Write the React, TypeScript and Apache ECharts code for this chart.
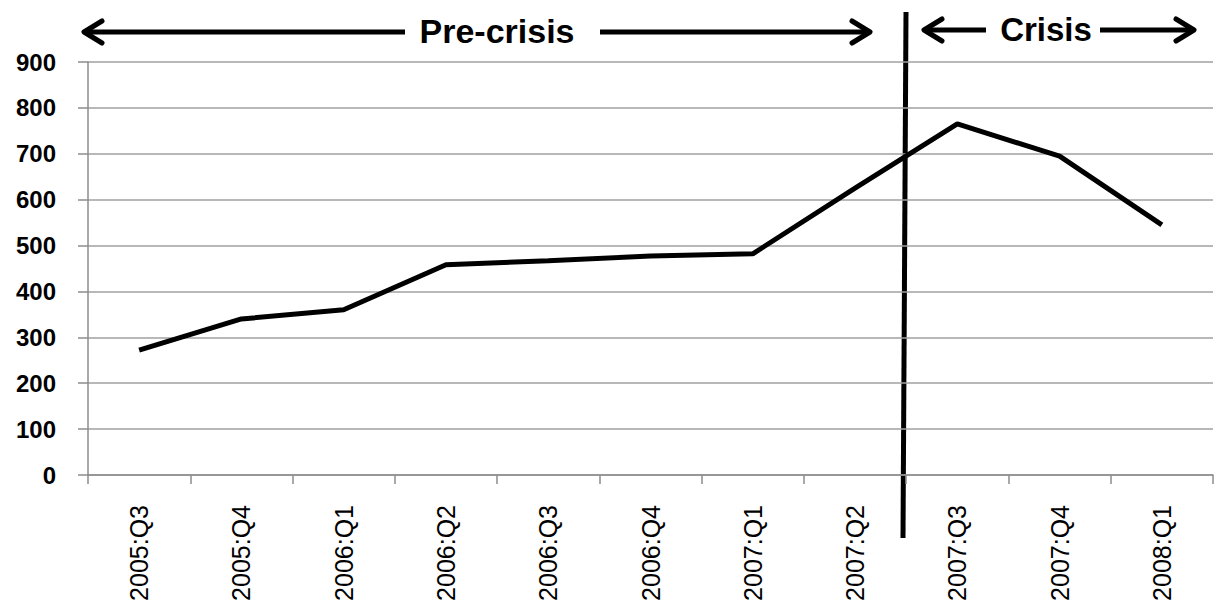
import React, { useEffect, useRef } from "react";
import * as echarts from "echarts";

const categories = [
  "2005:Q3", "2005:Q4", "2006:Q1", "2006:Q2", "2006:Q3", "2006:Q4",
  "2007:Q1", "2007:Q2", "2007:Q3", "2007:Q4", "2008:Q1",
];
const values = [272, 340, 360, 458, 467, 477, 482, 625, 765, 695, 545];
const yTicks = { min: 0, max: 900, interval: 100 };
const preLabel = "Pre-crisis";
const crisisLabel = "Crisis";

export default function App() {
  const ref = useRef<HTMLDivElement>(null);
  useEffect(() => {
    if (!ref.current) return;
    const chart = echarts.init(ref.current, null, { renderer: "svg" });
    const black = "#000";
    const lw = 5;
    const arrowHead = (x: number, y: number, dir: number) => ({
      type: "polyline",
      shape: { points: [[x - dir * 18, y - 11], [x, y], [x - dir * 18, y + 11]] },
      style: { stroke: black, lineWidth: lw, fill: "none", lineCap: "round", lineJoin: "round" },
    });
    const hline = (x1: number, x2: number, y: number) => ({
      type: "line",
      shape: { x1, y1: y, x2, y2: y },
      style: { stroke: black, lineWidth: lw },
    });
    chart.setOption({
      animation: false,
      backgroundColor: "#fff",
      grid: { left: 88, right: 12, top: 62, bottom: 138, containLabel: false },
      xAxis: {
        type: "category",
        data: categories,
        boundaryGap: true,
        axisLine: { show: true, lineStyle: { color: "#8c8c8c", width: 1.5 } },
        axisTick: { show: true, length: 9, lineStyle: { color: "#8c8c8c", width: 1.5 } },
        axisLabel: {
          rotate: 90,
          margin: 30,
          fontSize: 25,
          color: "#000",
          fontFamily: "Liberation Sans",
        },
        splitLine: { show: false },
      },
      yAxis: {
        type: "value",
        min: yTicks.min,
        max: yTicks.max,
        interval: yTicks.interval,
        axisLine: { show: true, lineStyle: { color: "#8c8c8c", width: 1.5 } },
        axisTick: { show: true, length: 10, lineStyle: { color: "#8c8c8c", width: 1.5 } },
        axisLabel: {
          margin: 32,
          fontSize: 24,
          fontWeight: "bold",
          color: "#000",
          fontFamily: "Liberation Sans",
        },
        splitLine: { show: true, lineStyle: { color: "#a0a0a0", width: 1.5 } },
      },
      series: [
        {
          type: "line",
          data: values,
          symbol: "none",
          lineStyle: { color: black, width: 5 },
        },
      ],
      graphic: [
        {
          type: "line",
          shape: { x1: 906, y1: 12, x2: 903, y2: 538 },
          style: { stroke: black, lineWidth: 5 },
        },
        hline(86, 405, 32),
        arrowHead(84, 32, -1),
        hline(600, 868, 32),
        arrowHead(870, 32, 1),
        {
          type: "text",
          x: 497,
          y: 31,
          style: {
            text: preLabel,
            fontSize: 34,
            fontWeight: "bold",
            fontFamily: "Liberation Sans",
            fill: black,
            align: "center",
            verticalAlign: "middle",
          },
        },
        hline(926, 986, 30),
        arrowHead(924, 30, -1),
        hline(1100, 1192, 30),
        arrowHead(1194, 30, 1),
        {
          type: "text",
          x: 1046,
          y: 29,
          style: {
            text: crisisLabel,
            fontSize: 33,
            fontWeight: "bold",
            fontFamily: "Liberation Sans",
            fill: black,
            align: "center",
            verticalAlign: "middle",
          },
        },
      ],
    });
    return () => chart.dispose();
  }, []);
  return <div ref={ref} style={{ width: 1225, height: 613, position: "absolute", left: 0, top: 0 }} />;
}
